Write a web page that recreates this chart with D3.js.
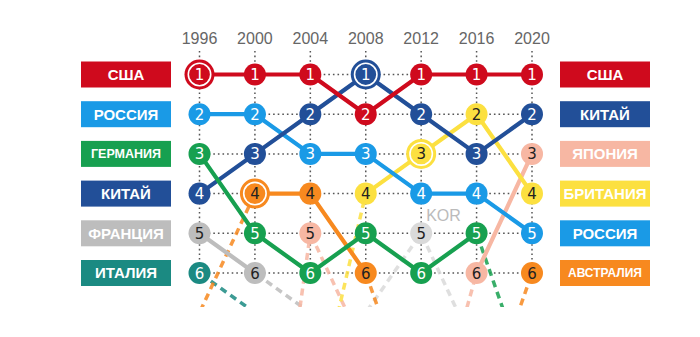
<!DOCTYPE html>
<html><head><meta charset="utf-8">
<script src="https://cdn.jsdelivr.net/npm/d3@7"></script>
<style>html,body{margin:0;padding:0;background:#fff;}svg{display:block;}</style>
</head><body>
<svg id="chart" width="700" height="337"></svg>
<script>
const years = [1996, 2000, 2004, 2008, 2012, 2016, 2020];
const ranksShown = [1, 2, 3, 4, 5, 6];
// rank per year (null = not shown); ranks > 6 are off-chart continuations
const countries = ["USA", "RUS", "GER", "CHN", "FRA", "ITA", "JPN", "GBR", "AUS", "KOR"];
const rankUSA = [1, 1, 1, 2, 1, 1, 1];
const rankRUS = [2, 2, 3, 3, 4, 4, 5];
const rankGER = [3, 5, 6, 5, 6, 5, 9];
const rankCHN = [4, 3, 2, 1, 2, 3, 2];
const rankFRA = [5, 6, 7, null, null, null, null];
const rankITA = [6, 7, null, null, null, null, null];
const rankJPN = [null, 15, 5, 8, 11, 6, 3];
const rankGBR = [null, null, 10, 4, 3, 2, 4];
const rankAUS = [7, 4, 4, 6, 10, 10, 6];
const rankKOR = [null, null, null, 7, 5, 8, null];
const hosts = [[1996, "USA"], [2000, "AUS"], [2008, "CHN"], [2012, "GBR"]];
const leftLabels = ["США", "РОССИЯ", "ГЕРМАНИЯ", "КИТАЙ", "ФРАНЦИЯ", "ИТАЛИЯ"];
const leftCodes = ["USA", "RUS", "GER", "CHN", "FRA", "ITA"];
const rightLabels = ["США", "КИТАЙ", "ЯПОНИЯ", "БРИТАНИЯ", "РОССИЯ", "АВСТРАЛИЯ"];
const rightCodes = ["USA", "CHN", "JPN", "GBR", "RUS", "AUS"];
const korLabel = "KOR";

const ranks = {USA: rankUSA, RUS: rankRUS, GER: rankGER, CHN: rankCHN, FRA: rankFRA,
  ITA: rankITA, JPN: rankJPN, GBR: rankGBR, AUS: rankAUS, KOR: rankKOR};
const color = {USA: "#cf0a1d", RUS: "#1a9ae6", GER: "#17a050", CHN: "#224f98", FRA: "#bdbdbd",
  ITA: "#1b8a82", JPN: "#f7b7a3", GBR: "#fce040", AUS: "#f7891f", KOR: "#dadada"};
const darkText = new Set(["FRA", "JPN", "GBR", "AUS", "KOR"]);
const labelSize = {"ГЕРМАНИЯ": 12.5, "АВСТРАЛИЯ": 12};

const svg = d3.select("#chart");
const x = d3.scalePoint().domain(years).range([199.5, 532]);
const y = d3.scaleLinear().domain([1, 6]).range([74.5, 273]);

// clip for off-chart continuations
svg.append("defs").append("clipPath").attr("id", "clip")
  .append("rect").attr("x", 0).attr("y", 0).attr("width", 700).attr("height", 307);

// grid
const grid = svg.append("g").attr("stroke", "#555").attr("stroke-width", 1.5)
  .attr("stroke-dasharray", "1.6,3");
grid.selectAll("line.v").data(years).join("line")
  .attr("x1", d => x(d)).attr("x2", d => x(d)).attr("y1", 51).attr("y2", y(6));
grid.selectAll("line.h").data(ranksShown).join("line")
  .attr("x1", x(years[0])).attr("x2", x(years[years.length - 1]))
  .attr("y1", d => y(d)).attr("y2", d => y(d));

// year labels
svg.selectAll("text.year").data(years).join("text")
  .attr("x", d => x(d)).attr("y", 44).attr("text-anchor", "middle")
  .attr("font-family", "Liberation Sans, Arial, sans-serif").attr("font-size", 16)
  .attr("fill", "#666").text(d => d);

// segments
const solid = [], dashed = [];
countries.forEach(c => {
  const r = ranks[c];
  for (let i = 0; i < years.length - 1; i++) {
    const a = r[i], b = r[i + 1];
    if (a == null || b == null) continue;
    const seg = {c, x1: x(years[i]), y1: y(a), x2: x(years[i + 1]), y2: y(b)};
    if (a <= 6 && b <= 6) solid.push(seg);
    else if (a <= 6 || b <= 6) dashed.push(seg);
  }
});
const order = ["KOR", "FRA", "ITA", "JPN", "AUS", "GBR", "RUS", "CHN", "GER", "USA"];
const ord = s => order.indexOf(s.c);
svg.append("g").attr("clip-path", "url(#clip)").selectAll("line")
  .data(dashed.sort((a, b) => ord(a) - ord(b))).join("line")
  .attr("x1", d => d.x1).attr("y1", d => d.y1).attr("x2", d => d.x2).attr("y2", d => d.y2)
  .attr("stroke", d => color[d.c]).attr("stroke-width", 3.5).attr("stroke-dasharray", "7,5")
  .attr("stroke-dashoffset", -14).attr("opacity", 0.85);
svg.append("g").selectAll("line")
  .data(solid.sort((a, b) => ord(a) - ord(b))).join("line")
  .attr("x1", d => d.x1).attr("y1", d => d.y1).attr("x2", d => d.x2).attr("y2", d => d.y2)
  .attr("stroke", d => color[d.c]).attr("stroke-width", 4.2).attr("stroke-linecap", "round");

// nodes
const nodes = [];
countries.forEach(c => ranks[c].forEach((r, i) => {
  if (r != null && r <= 6) nodes.push({c, r, year: years[i],
    host: hosts.some(h => h[0] === years[i] && h[1] === c)});
}));
const ng = svg.append("g").selectAll("g").data(nodes).join("g")
  .attr("transform", d => `translate(${x(d.year)},${y(d.r)})`);
ng.append("circle").attr("r", d => d.host ? 15 : 11).attr("fill", d => color[d.c]);
ng.filter(d => d.host).append("circle").attr("r", 11.2).attr("fill", "none")
  .attr("stroke", "#fff").attr("stroke-width", 1.6);
ng.append("text").attr("text-anchor", "middle").attr("y", 5.5)
  .attr("font-family", "DejaVu Sans, sans-serif").attr("font-size", 15)
  .attr("fill", d => darkText.has(d.c) ? "#222" : "#fff").text(d => d.r);

// KOR label
const korIdx = rankKOR.indexOf(5);
svg.append("text").attr("x", x(years[korIdx]) + 5).attr("y", y(5) - 12)
  .attr("font-family", "Liberation Sans, Arial, sans-serif").attr("font-size", 16)
  .attr("fill", "#bbb").text(korLabel);

// side labels
function side(labels, codes, x0) {
  const g = svg.append("g").selectAll("g").data(labels).join("g")
    .attr("transform", (d, i) => `translate(${x0},${y(i + 1) - 13})`);
  g.append("rect").attr("width", 90).attr("height", 26).attr("fill", (d, i) => color[codes[i]]);
  g.append("text").attr("x", 45).attr("y", (d) => 13 + (labelSize[d] || 15) * 0.36)
    .attr("text-anchor", "middle")
    .attr("font-family", "Liberation Sans, Arial, sans-serif").attr("font-weight", "bold")
    .attr("font-size", d => labelSize[d] || 15).attr("fill", "#fff").text(d => d);
}
side(leftLabels, leftCodes, 81);
side(rightLabels, rightCodes, 560);
</script>
</body></html>
